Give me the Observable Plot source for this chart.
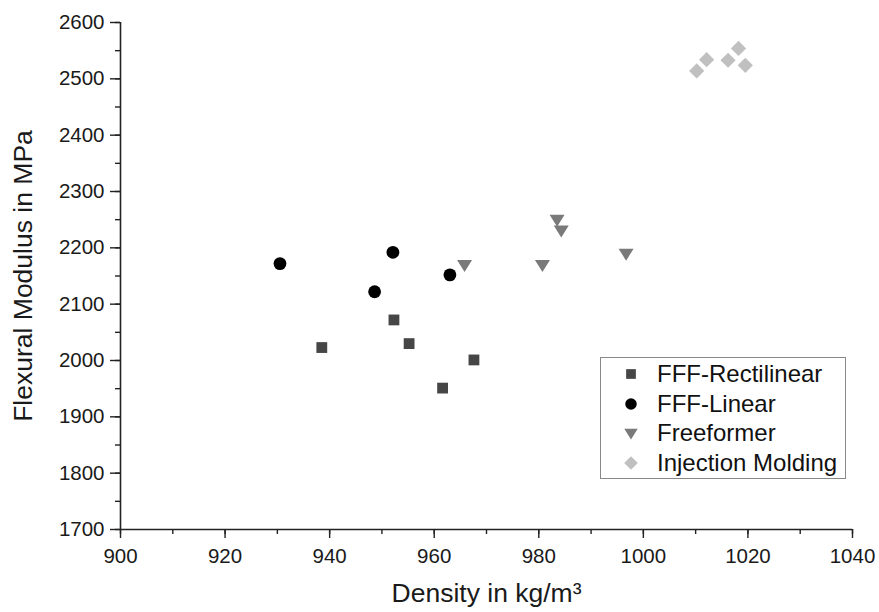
<!DOCTYPE html>
<html>
<head>
<meta charset="utf-8">
<script src="https://cdn.jsdelivr.net/npm/d3@7"></script>
<script src="https://cdn.jsdelivr.net/npm/@observablehq/plot@0.6"></script>
<style>
  body { margin: 0; background: #fff; font-family: "Liberation Sans", Arial, sans-serif; }
  #wrap { position: relative; width: 879px; height: 612px; }
  #legend { position: absolute; left: 600px; top: 357px; width: 246px; height: 122px;
    border: 1.5px solid #888; box-sizing: border-box; background: #fff; padding-top: 1px; }
  .item { display: flex; align-items: center; height: 29.8px; font-size: 24px; color: #111; }
  .item svg { margin-left: 22px; margin-right: 18px; }
</style>
</head>
<body>
<div id="wrap"><div id="legend"></div></div>
<script>
const seriesNames = ["FFF-Rectilinear", "FFF-Linear", "Freeformer", "Injection Molding"];
const rectDensity = [938.5, 952.3, 955.2, 961.6, 967.6];
const rectModulus = [2023, 2072, 2030, 1951, 2001];
const linDensity = [930.5, 948.6, 952.1, 963.0];
const linModulus = [2172, 2122, 2192, 2152];
const freeDensity = [965.8, 980.7, 983.5, 984.3, 996.7];
const freeModulus = [2170, 2170, 2250, 2231, 2190];
const injDensity = [1010.2, 1012.1, 1016.2, 1018.2, 1019.5];
const injModulus = [2514, 2534, 2533, 2554, 2524];
const xTicks = [900, 920, 940, 960, 980, 1000, 1020, 1040];
const yTicks = [1700, 1800, 1900, 2000, 2100, 2200, 2300, 2400, 2500, 2600];

const colors = ["#464646", "#000000", "#7a7a7a", "#c0c0c0"];

const sq = {draw(c, s) { const h = 5.4; c.moveTo(-h, -h); c.lineTo(h, -h); c.lineTo(h, h); c.lineTo(-h, h); c.closePath(); }};
const ci = {draw(c, s) { const r = 6.4; c.moveTo(r, 0); c.arc(0, 0, r, 0, 2 * Math.PI); }};
const tri = {draw(c, s) { c.moveTo(-7.5, -4.8); c.lineTo(7.5, -4.8); c.lineTo(0, 7.2); c.closePath(); }};
const dia = {draw(c, s) { const r = 7.6; c.moveTo(0, -r); c.lineTo(r, 0); c.lineTo(0, r); c.lineTo(-r, 0); c.closePath(); }};
const symbols = [sq, ci, tri, dia];

const toRows = (xs, ys) => xs.map((x, i) => ({x, y: ys[i]}));
const sets = [toRows(rectDensity, rectModulus), toRows(linDensity, linModulus),
              toRows(freeDensity, freeModulus), toRows(injDensity, injModulus)];

const minorX = d3.range(900, 1041, 10);
const minorY = d3.range(1700, 2601, 50);
const fmt = d => String(d);

const chart = Plot.plot({
  width: 879, height: 612,
  marginLeft: 120, marginRight: 27, marginTop: 22, marginBottom: 83,
  style: {fontFamily: "Liberation Sans, Arial, sans-serif", fontSize: "20.5px", color: "#1a1a1a", background: "#fff"},
  x: {domain: [900, 1040]},
  y: {domain: [1700, 2600]},
  marks: [
    Plot.axisX(minorX, {tickSize: 5, text: null, label: null, stroke: "#222", strokeWidth: 1.4}),
    Plot.axisY(minorY, {tickSize: 5, text: null, label: null, stroke: "#222", strokeWidth: 1.4}),
    Plot.axisX(xTicks, {tickSize: 9, tickPadding: 10, tickFormat: fmt, label: "Density in kg/m³", labelAnchor: "center", labelArrow: "none", labelOffset: 72, stroke: "#222", strokeWidth: 1.4}),
    Plot.axisY(yTicks, {tickSize: 10, tickPadding: 6, tickFormat: fmt, label: "Flexural Modulus in MPa", labelAnchor: "center", labelArrow: "none", labelOffset: 107, stroke: "#222", strokeWidth: 1.4}),
    Plot.ruleX([900], {stroke: "#222", strokeWidth: 1.6}),
    Plot.ruleY([1700], {stroke: "#222", strokeWidth: 1.6}),
    ...sets.map((data, i) => Plot.dot(data, {x: "x", y: "y", symbol: symbols[i], fill: colors[i], stroke: "none", r: 7}))
  ]
});
chart.querySelectorAll('g[aria-label="x-axis label"], g[aria-label="y-axis label"]').forEach(g => {
  g.style.fontSize = "26.5px";
  g.querySelectorAll("text").forEach(t => t.style.fontSize = "26.5px");
});
document.getElementById("wrap").prepend(chart);

const leg = document.getElementById("legend");
seriesNames.forEach((name, i) => {
  const row = document.createElement("div");
  row.className = "item";
  const s = d3.create("svg").attr("width", 16).attr("height", 16);
  const p = d3.path(); symbols[i].draw(p, 0);
  s.append("path").attr("d", p.toString()).attr("transform", "translate(8,8) scale(0.9)").attr("fill", colors[i]);
  row.appendChild(s.node());
  const t = document.createElement("span"); t.textContent = name;
  row.appendChild(t);
  leg.appendChild(row);
});
</script>
</body>
</html>
